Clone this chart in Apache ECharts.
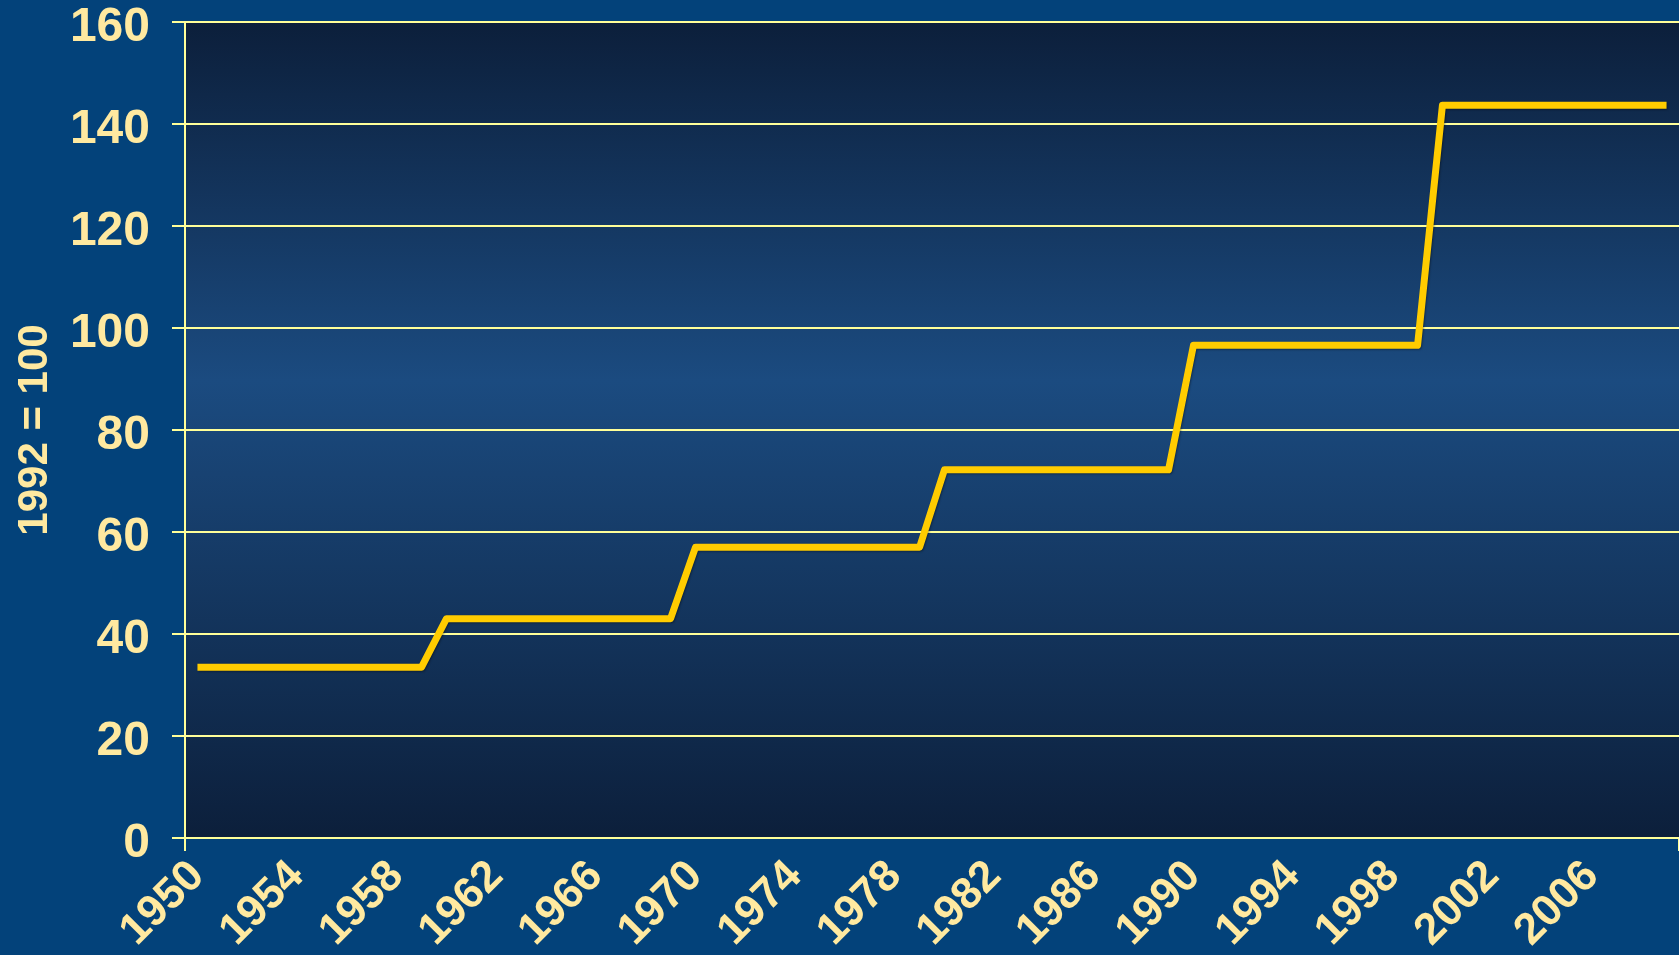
<!DOCTYPE html>
<html lang="en">

<head>
  <meta charset="UTF-8">
  <title>1992 = 100</title>
  <script src="https://cdnjs.cloudflare.com/ajax/libs/echarts/6.0.0/echarts.min.js"></script>
  <style>
    html, body { margin: 0; padding: 0; background: #03427a; }
  </style>
</head>

<body>
  <div id="main" style="width: 1679px;height:955px;"></div>
  <script type="text/javascript">
    // year categories
    var years = [
      '1950', '1951', '1952', '1953', '1954', '1955', '1956', '1957', '1958', '1959',
      '1960', '1961', '1962', '1963', '1964', '1965', '1966', '1967', '1968', '1969',
      '1970', '1971', '1972', '1973', '1974', '1975', '1976', '1977', '1978', '1979',
      '1980', '1981', '1982', '1983', '1984', '1985', '1986', '1987', '1988', '1989',
      '1990', '1991', '1992', '1993', '1994', '1995', '1996', '1997', '1998', '1999',
      '2000', '2001', '2002', '2003', '2004', '2005', '2006', '2007', '2008', '2009'
    ];
    // index values (1992 = 100)
    var values = [
      33.5, 33.5, 33.5, 33.5, 33.5, 33.5, 33.5, 33.5, 33.5, 33.5,
      43, 43, 43, 43, 43, 43, 43, 43, 43, 43,
      57, 57, 57, 57, 57, 57, 57, 57, 57, 57,
      72.2, 72.2, 72.2, 72.2, 72.2, 72.2, 72.2, 72.2, 72.2, 72.2,
      96.6, 96.6, 96.6, 96.6, 96.6, 96.6, 96.6, 96.6, 96.6, 96.6,
      143.7, 143.7, 143.7, 143.7, 143.7, 143.7, 143.7, 143.7, 143.7, 143.7
    ];
    var yAxisName = '1992 = 100';

    var textColor = '#ffe9a0';
    var gridColor = '#ffff99';
    var font = "'Liberation Sans', Arial, sans-serif";

    var myChart = echarts.init(document.getElementById('main'));

    var option = {
      backgroundColor: '#03427a',
      animation: false,
      grid: {
        left: 185,
        right: 0,
        top: 22,
        bottom: 117,
        containLabel: false,
        outerBoundsMode: 'none',
        show: true,
        borderWidth: 0,
        backgroundColor: {
          type: 'linear', x: 0, y: 0, x2: 0, y2: 1,
          colorStops: [
            { offset: 0, color: '#0c1f3b' },
            { offset: 0.44, color: '#1b4b80' },
            { offset: 1, color: '#0c1f3b' }
          ]
        }
      },
      xAxis: {
        type: 'category',
        data: years,
        boundaryGap: true,
        axisLine: { show: true, lineStyle: { color: gridColor, width: 2 } },
        axisTick: {
          show: true,
          length: 13,
          interval: function (index) { return index === 0; },
          lineStyle: { color: gridColor, width: 2 }
        },
        axisLabel: {
          interval: 3,
          rotate: 45,
          margin: 31,
          color: textColor,
          fontFamily: font,
          fontWeight: 'bold',
          fontSize: 44
        },
        splitLine: { show: false }
      },
      yAxis: {
        type: 'value',
        min: 0,
        max: 160,
        interval: 20,
        name: yAxisName,
        nameLocation: 'middle',
        nameGap: 129,
        nameRotate: 90,
        nameTextStyle: {
          color: textColor,
          fontFamily: font,
          fontWeight: 'bold',
          fontSize: 42
        },
        axisLine: { show: true, lineStyle: { color: gridColor, width: 2 } },
        axisTick: { show: true, length: 13, lineStyle: { color: gridColor, width: 2 } },
        axisLabel: {
          margin: 35,
          formatter: '{v|{value}}',
          rich: {
            v: {
              color: textColor,
              fontFamily: font,
              fontWeight: 'bold',
              fontSize: 48,
              padding: [11, 0, 0, 0]
            }
          }
        },
        splitLine: { show: true, lineStyle: { color: gridColor, width: 2 } }
      },
      series: [
        {
          type: 'line',
          data: values,
          symbol: 'none',
          lineStyle: {
            color: '#ffcc00',
            width: 7,
            cap: 'butt',
            join: 'round',
            shadowColor: 'rgba(0,0,0,0.35)',
            shadowBlur: 2,
            shadowOffsetX: 1,
            shadowOffsetY: 1
          }
        }
      ]
    };

    myChart.setOption(option);
  </script>
</body>

</html>
